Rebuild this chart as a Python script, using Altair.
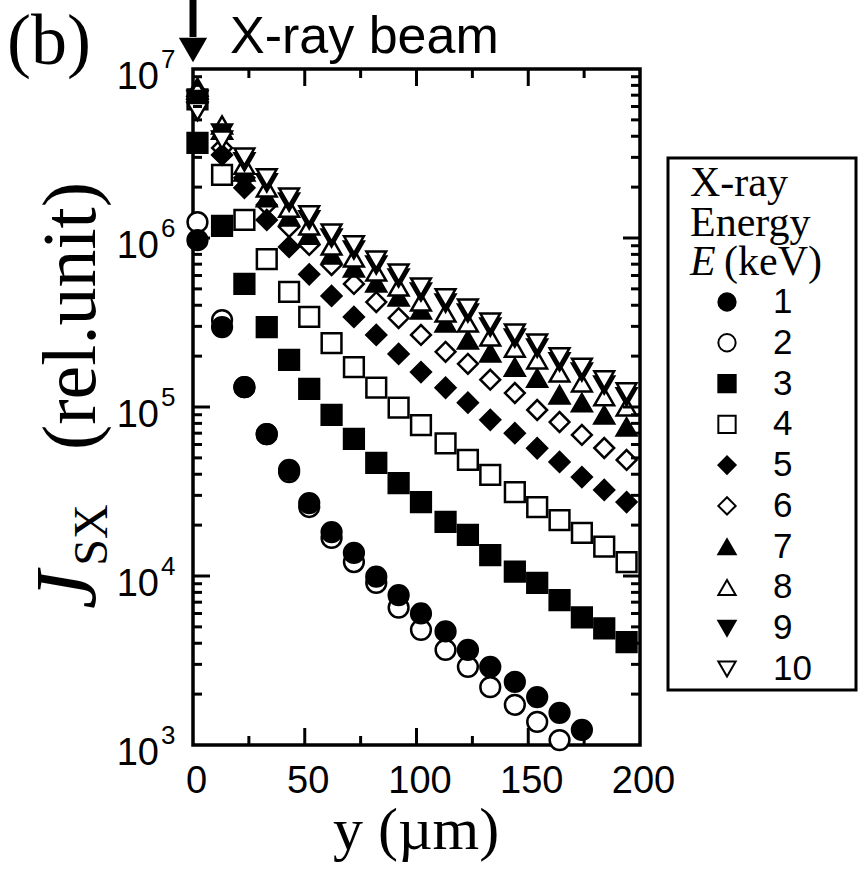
import altair as alt
import pandas as pd

# depth below the irradiated surface, y (µm)
depth_um = [2, 13, 23, 33, 43, 52, 62, 72, 82, 92, 102, 113, 123, 133, 144, 154, 164, 174, 184, 194]

# J_SX (rel. unit) for each X-ray energy E (keV)
j_1kev = [9.7e5, 2.97e5, 1.31e5, 6.9e4, 4.24e4, 2.7e4, 1.82e4, 1.37e4, 9.9e3, 7.7e3,
          6.0e3, 4.7e3, 3.65e3, 2.9e3, 2.36e3, 1.92e3, 1.55e3, 1.23e3]
j_2kev = [1.24e6, 3.27e5, 1.31e5, 6.9e4, 4.12e4, 2.56e4, 1.68e4, 1.21e4, 9.1e3, 6.5e3,
          4.8e3, 3.65e3, 2.9e3, 2.2e3, 1.73e3, 1.37e3, 1.07e3]
j_3kev = [3.65e6, 1.18e6, 5.35e5, 2.97e5, 1.90e5, 1.28e5, 8.97e4, 6.47e4, 4.67e4, 3.55e4,
          2.74e4, 2.09e4, 1.75e4, 1.33e4, 1.06e4, 9.1e3, 7.2e3, 5.7e3, 4.9e3, 4.06e3]
j_4kev = [6.6e6, 2.36e6, 1.28e6, 7.5e5, 4.8e5, 3.41e5, 2.39e5, 1.72e5, 1.30e5, 9.9e4,
          7.8e4, 6.1e4, 4.86e4, 3.96e4, 3.14e4, 2.56e4, 2.14e4, 1.80e4, 1.49e4, 1.21e4]
j_5kev = [6.7e6, 3.1e6, 1.98e6, 1.28e6, 8.85e5, 6.1e5, 4.54e5, 3.41e5, 2.67e5, 2.06e5,
          1.61e5, 1.30e5, 1.06e5, 8.4e4, 7.0e4, 5.7e4, 4.73e4, 3.85e4, 3.23e4, 2.74e4]
j_6kev = [6.4e6, 3.41e6, 2.27e6, 1.57e6, 1.16e6, 9.1e5, 6.92e5, 5.35e5, 4.18e5, 3.36e5,
          2.67e5, 2.12e5, 1.80e5, 1.45e5, 1.21e5, 9.6e4, 8.15e4, 6.83e4, 5.72e4, 4.86e4]
j_7kev = [7.8e6, 4.35e6, 2.46e6, 1.73e6, 1.33e6, 1.04e6, 7.93e5, 6.64e5, 5.42e5, 4.48e5,
          3.75e5, 3.14e5, 2.49e5, 2.09e5, 1.72e5, 1.48e5, 1.18e5, 1.06e5, 8.97e4, 7.62e4]
j_8kev = [7.5e6, 4.66e6, 2.70e6, 1.98e6, 1.50e6, 1.18e6, 8.97e5, 7.62e5, 6.29e5, 5.13e5,
          4.18e5, 3.60e5, 3.14e5, 2.60e5, 2.23e5, 1.90e5, 1.59e5, 1.39e5, 1.15e5, 1.0e5]
j_9kev = [6.6e6, 4.18e6, 2.82e6, 2.12e6, 1.63e6, 1.28e6, 1.0e6, 8.49e5, 6.92e5, 5.80e5,
          4.79e5, 4.12e5, 3.60e5, 2.97e5, 2.56e5, 2.23e5, 1.85e5, 1.61e5, 1.35e5, 1.15e5]
j_10kev = [5.6e6, 3.8e6, 3.01e6, 2.27e6, 1.75e6, 1.37e6, 1.07e6, 9.1e5, 7.41e5, 6.21e5,
           5.13e5, 4.42e5, 3.85e5, 3.18e5, 2.74e5, 2.39e5, 1.98e5, 1.72e5, 1.45e5, 1.23e5]

energies = ["1", "2", "3", "4", "5", "6", "7", "8", "9", "10"]
series = [j_1kev, j_2kev, j_3kev, j_4kev, j_5kev, j_6kev, j_7kev, j_8kev, j_9kev, j_10kev]

# axis ticks
x_labels = [0, 50, 100, 150, 200]
x_major = [50, 100, 150]
x_minor = [25, 75, 125, 175]
y_labels = [1e3, 1e4, 1e5, 1e6, 1e7]
y_exponents = ["3", "4", "5", "6", "7"]
y_major = [1e4, 1e5, 1e6]
y_minor = [m * 10 ** d for d in range(3, 7) for m in range(2, 10)]

# marker styles per energy
shapes = ["circle", "circle", "square", "square", "diamond", "diamond",
          "triangle-up", "triangle-up", "triangle-down", "triangle-down"]
fills = ["black", "white"] * 5
sizes = [390, 390, 420, 420, 400, 400, 500, 500, 500, 500]
draw_order = ["2", "1", "4", "3", "6", "5", "7", "8", "9", "10"]

rows = []
for e, vals in zip(energies, series):
    for d, v in zip(depth_um, vals):
        rows.append({"E": e, "depth": d, "J": v, "z": draw_order.index(e)})
df = pd.DataFrame(rows).sort_values(["z", "depth"]).reset_index(drop=True)

PW, PH = 447, 676
SANS = "Liberation Sans"
SERIF = "Liberation Serif"

x_scale = alt.Scale(domain=[0, 200], nice=False, zero=False)
y_scale = alt.Scale(type="log", domain=[1e3, 1e7], nice=False)
shape_scale = alt.Scale(domain=energies, range=shapes)
fill_scale = alt.Scale(domain=energies, range=fills)

x_axis = alt.Axis(values=x_labels, format="d", ticks=False, domain=False, grid=False,
                  title=None, labelFont="Liberation Sans Narrow, Liberation Sans",
                  labelFontSize=38, labelPadding=17, labelFlush=False, labelOverlap=False,
                  labelColor="black", labelOffset=3)

points = alt.Chart(df).mark_point(filled=True, stroke="black", strokeWidth=2.5, opacity=1).encode(
    x=alt.X("depth:Q", scale=x_scale, axis=x_axis),
    y=alt.Y("J:Q", scale=y_scale, axis=None),
    shape=alt.Shape("E:N", scale=shape_scale, legend=None),
    fill=alt.Fill("E:N", scale=fill_scale, legend=None),
    size=alt.Size("E:O", scale=alt.Scale(domain=energies, range=sizes), legend=None),
    order=alt.Order("z:Q"),
)


def xticks(vals, length):
    base = alt.Chart(pd.DataFrame({"v": vals})).mark_rule(color="black", strokeWidth=3)
    enc = dict(x=alt.X("v:Q", scale=x_scale, axis=x_axis))
    bottom = base.encode(**enc, y=alt.value(PH), y2=alt.value(PH - length))
    top = base.encode(**enc, y=alt.value(0), y2=alt.value(length))
    return [bottom, top]


def yticks(vals, length):
    base = alt.Chart(pd.DataFrame({"v": vals})).mark_rule(color="black", strokeWidth=3)
    enc = dict(y=alt.Y("v:Q", scale=y_scale, axis=None))
    left = base.encode(**enc, x=alt.value(0), x2=alt.value(length))
    right = base.encode(**enc, x=alt.value(PW), x2=alt.value(PW - length))
    return [left, right]


def note(text, x, y, **style):
    style.setdefault("baseline", "alphabetic")
    return alt.Chart(pd.DataFrame({"t": [text]})).mark_text(color="black", **style).encode(
        x=alt.value(x), y=alt.value(y), text="t:N")


# y tick labels: "10" with a raised exponent
ylab_df = pd.DataFrame({"v": y_labels, "exp": y_exponents})
ylab_base = alt.Chart(ylab_df).mark_text(
    font=SANS, fontSize=38, align="right", baseline="middle", dy=9, color="black").encode(
    y=alt.Y("v:Q", scale=y_scale, axis=None), x=alt.value(-34), text=alt.value("10"))
ylab_exp = alt.Chart(ylab_df).mark_text(
    font=SANS, fontSize=26, align="left", baseline="middle", dy=-9, color="black").encode(
    y=alt.Y("v:Q", scale=y_scale, axis=None), x=alt.value(-32), text="exp:N")

# legend
legend_df = pd.DataFrame({"E": energies})
leg_y = alt.Y("E:N", scale=alt.Scale(type="point", domain=energies, range=[233, 600], padding=0),
              axis=None)
legend_box = alt.Chart(pd.DataFrame({"t": [0]})).mark_rect(
    fillOpacity=0, stroke="black", strokeWidth=3).encode(
    x=alt.value(475), x2=alt.value(663), y=alt.value(89), y2=alt.value(621))
legend_symbols = alt.Chart(legend_df).mark_point(
    filled=True, stroke="black", strokeWidth=2, opacity=1, size=300).encode(
    x=alt.value(534), y=leg_y,
    shape=alt.Shape("E:N", scale=shape_scale, legend=None),
    fill=alt.Fill("E:N", scale=fill_scale, legend=None))
legend_labels = alt.Chart(legend_df).mark_text(
    font=SANS, fontSize=35, align="left", baseline="middle", color="black").encode(
    x=alt.value(580), y=leg_y, text="E:N")

# X-ray beam arrow
arrow_shaft = alt.Chart(pd.DataFrame({"t": [0]})).mark_rule(color="black", strokeWidth=7).encode(
    x=alt.value(0), y=alt.value(-69), y2=alt.value(-32))
arrow_head = alt.Chart(pd.DataFrame({"t": [0]})).mark_point(
    shape="triangle-down", filled=True, color="black", opacity=1, size=800).encode(
    x=alt.value(0), y=alt.value(-19))

layers = [points]
layers += xticks(x_major, 17) + xticks(x_minor, 9)
layers += yticks(y_major, 17) + yticks(y_minor, 9)
layers += [ylab_base, ylab_exp]
layers += [
    arrow_shaft, arrow_head,
    note("X-ray beam", 37, -16, font=SANS, fontSize=52, align="left"),
    note("(b)", -186, -5, font=SERIF, fontSize=72, align="left"),
    note("y (µm)", 223, 780, font=SERIF, fontSize=60, align="center"),
    note("(rel.unit)", -98, 247, font=SERIF, fontSize=76, angle=270, align="center"),
    note("SX", -86, 466, font=SERIF, fontSize=48, angle=270, align="center"),
    note("J", -98, 521, font=SERIF, fontSize=86, fontStyle="italic", angle=270,
         align="center"),
    legend_box, legend_symbols, legend_labels,
    note("X-ray", 497, 127, font=SERIF, fontSize=42, align="left"),
    note("Energy", 497, 167, font=SERIF, fontSize=42, align="left"),
    note("E", 497, 206, font=SERIF, fontSize=42, fontStyle="italic", align="left"),
    note("(keV)", 531, 206, font=SERIF, fontSize=42, align="left"),
]

chart = alt.layer(*layers).resolve_scale(y="independent").properties(
    width=PW, height=PH,
    padding={"left": 193, "top": 69, "right": 858 - 193 - PW, "bottom": 869 - 69 - PH},
    autosize=alt.AutoSizeParams(type="none"),
    background="white",
).configure_view(stroke="black", strokeWidth=3.5)

chart.save("out.html", embed_options={"renderer": "svg", "actions": False})
